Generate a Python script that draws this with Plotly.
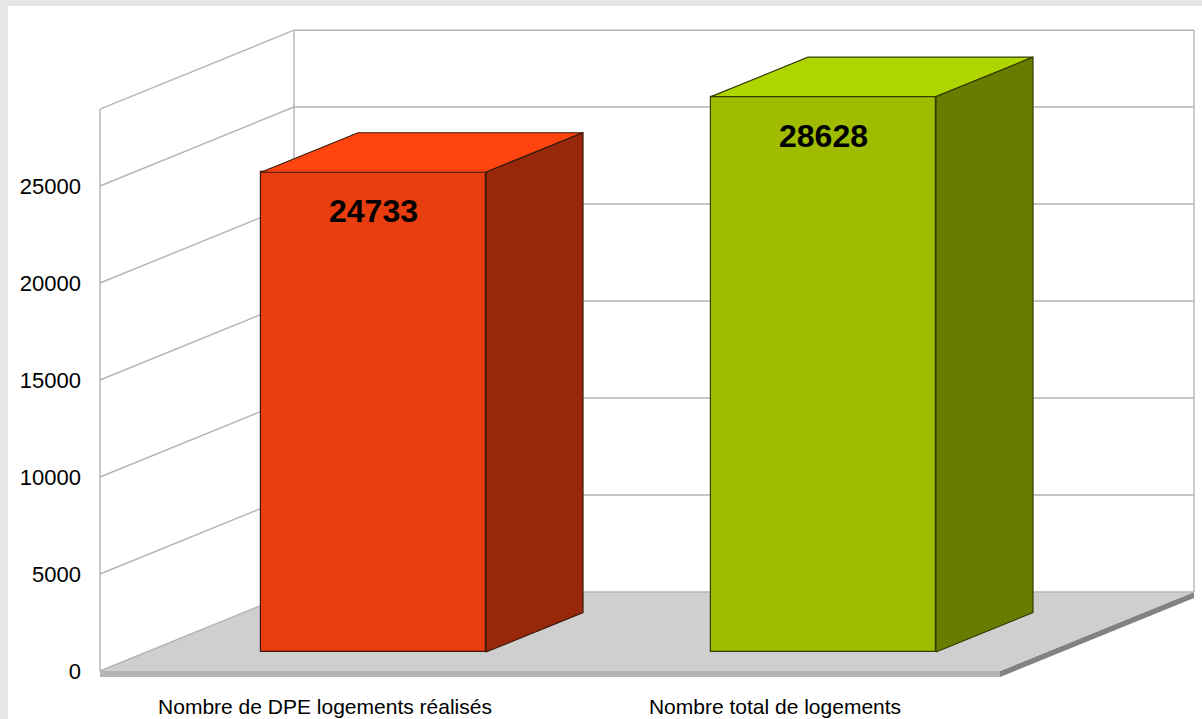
import plotly.graph_objects as go

categories = ["Nombre de DPE logements réalisés", "Nombre total de logements"]
values = [24733, 28628]
value_labels = ["24733", "28628"]
y_ticks = [0, 5000, 10000, 15000, 20000, 25000]
wall_top = 28960
front_colors = ["#E83D0E", "#9FBC00"]
top_colors = ["#FF440E", "#AFD500"]
side_colors = ["#99280A", "#6A7C00"]
edge_colors = ["#3A1A0A", "#343C00"]

# scales: pixels of the picture per axis unit
PX_X = 450.0
PX_Y = 97.0 / 5000.0
DEPTH_X = 194.0 / PX_X       # full floor depth, in x units
DEPTH_Y = 79.0 / PX_Y        # full floor depth, in y units
FRONT = 0.25                 # bar front sits at this share of the depth
BACK = 0.75
BAR_W = 0.5
SLAB = 6.0 / PX_Y            # floor thickness
LABEL_DROP = 39.0 / PX_Y
BAR_SINK = 0.8 / PX_Y

W, H = 1202, 719
ML, MB = 96, 37
x_range = [(ML - 100) / PX_X - 0.5, (W - 100) / PX_X - 0.5]
y_range = [(671 - (H - MB)) / PX_Y, 671 / PX_Y]

fig = go.Figure()
GRID = "#B4B4B4"
shapes = []


def poly(xs, ys):
    d = "M " + " L ".join(f"{a:.5f},{b:.3f}" for a, b in zip(xs, ys)) + " Z"
    return d


# white card on the grey page
shapes.append(dict(type="rect", xref="paper", yref="paper",
                   x0=(8 - ML) / (W - ML), x1=1.01,
                   y0=-MB / (H - MB), y1=(H - MB - 6) / (H - MB),
                   fillcolor="white", line_width=0, layer="below"))

x0, x1 = -0.5, 1.5
# floor slab edges, floor, walls
shapes.append(dict(type="path", layer="below", xref="x", yref="y", line_width=0, fillcolor="#B5B5B5",
                   path=poly([x0, x1, x1, x0], [0, 0, -SLAB, -SLAB])))
shapes.append(dict(type="path", layer="below", xref="x", yref="y", line_width=0, fillcolor="#828282",
                   path=poly([x1, x1 + DEPTH_X, x1 + DEPTH_X, x1],
                             [0, DEPTH_Y, DEPTH_Y - SLAB, -SLAB])))
shapes.append(dict(type="path", layer="below", xref="x", yref="y", line_width=0, fillcolor="#CFCFCF",
                   path=poly([x0, x0 + DEPTH_X, x1 + DEPTH_X, x1], [0, DEPTH_Y, DEPTH_Y, 0])))


def seg(a, b, c, d):
    shapes.append(dict(type="line", layer="below", xref="x", yref="y",
                       x0=a, y0=b, x1=c, y1=d, line=dict(color=GRID, width=1.4)))


for t in y_ticks + [wall_top]:
    seg(x0, t, x0 + DEPTH_X, t + DEPTH_Y)
    seg(x0 + DEPTH_X, t + DEPTH_Y, x1 + DEPTH_X, t + DEPTH_Y)
seg(x0, 0, x0, wall_top)
seg(x0 + DEPTH_X, DEPTH_Y, x0 + DEPTH_X, wall_top + DEPTH_Y)
seg(x1 + DEPTH_X, DEPTH_Y, x1 + DEPTH_X, wall_top + DEPTH_Y)

base = FRONT * DEPTH_Y - BAR_SINK
shift_x = FRONT * DEPTH_X
d_x = (BACK - FRONT) * DEPTH_X
d_y = (BACK - FRONT) * DEPTH_Y

bar_x = [i + shift_x for i in range(len(values))]

# front faces
fig.add_trace(go.Bar(x=bar_x, y=values, base=[base] * len(values), width=BAR_W,
                     marker=dict(color=front_colors, line=dict(color=edge_colors, width=1.2)),
                     hoverinfo="skip", showlegend=False))

# top and side faces
for i, v in enumerate(values):
    left = bar_x[i] - BAR_W / 2
    right = bar_x[i] + BAR_W / 2
    low, top = base, base + v
    fig.add_trace(go.Scatter(x=[left, right, right + d_x, left + d_x, left],
                             y=[top, top, top + d_y, top + d_y, top],
                             mode="lines", fill="toself", fillcolor=top_colors[i],
                             line=dict(color=edge_colors[i], width=1.2),
                             hoverinfo="skip", showlegend=False))
    fig.add_trace(go.Scatter(x=[right, right + d_x, right + d_x, right, right],
                             y=[low, low + d_y, top + d_y, top, low],
                             mode="lines", fill="toself", fillcolor=side_colors[i],
                             line=dict(color=edge_colors[i], width=1.2),
                             hoverinfo="skip", showlegend=False))

# value labels
fig.add_trace(go.Scatter(x=bar_x, y=[base + v - LABEL_DROP - 3 / PX_Y for v in values],
                         mode="text", text=value_labels,
                         textfont=dict(family="Liberation Sans", size=32, color="black", weight="bold"),
                         hoverinfo="skip", showlegend=False))

fig.update_layout(
    width=W, height=H, autosize=False,
    margin=dict(l=ML, r=0, t=0, b=MB, pad=0),
    paper_bgcolor="#E6E6E6", plot_bgcolor="rgba(0,0,0,0)",
    font=dict(family="Liberation Sans", color="black", size=20),
    shapes=shapes, showlegend=False, bargap=0,
)
fig.update_xaxes(range=x_range, tickmode="array", tickvals=list(range(len(categories))),
                 ticktext=categories, showgrid=False, zeroline=False, showline=False,
                 ticks="", ticklabelstandoff=10, tickfont=dict(size=21))
fig.update_yaxes(range=y_range, tickmode="array", tickvals=y_ticks, tickformat="d",
                 showgrid=False, zeroline=False, showline=False,
                 ticks="", ticklabelstandoff=14, tickfont=dict(size=22))

fig.write_html("out.html", config=dict(displayModeBar=False),
               post_script="document.body.style.margin='0';document.body.style.overflow='hidden';")
